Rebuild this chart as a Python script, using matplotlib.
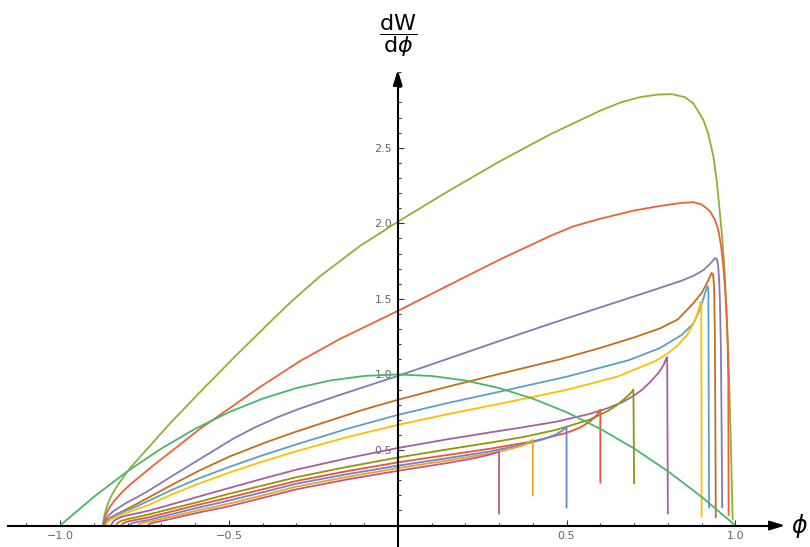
import numpy as np
import matplotlib.pyplot as plt
from matplotlib.ticker import FixedLocator

# curves: phi values and dW/dphi values,
# named by the phi where each curve drops vertically
phi_099 = [-0.873, -0.871, -0.868, -0.863, -0.855, -0.845, -0.830, -0.810, -0.789, -0.740,
           -0.675, -0.576, -0.477, -0.379, -0.314, -0.230, -0.112, 0.0, 0.155, 0.302,
           0.450, 0.599, 0.660, 0.717, 0.770, 0.812, 0.850, 0.875, 0.905, 0.920,
           0.935, 0.945, 0.954, 0.962, 0.968, 0.974, 0.979, 0.985, 0.992]
dw_099 = [0.0, 0.04, 0.075, 0.115, 0.165, 0.21, 0.265, 0.33, 0.39, 0.512,
          0.675, 0.905, 1.13, 1.345, 1.485, 1.65, 1.85, 2.01, 2.22, 2.41,
          2.587, 2.745, 2.80, 2.835, 2.852, 2.855, 2.835, 2.795, 2.685, 2.59,
          2.44, 2.28, 2.07, 1.88, 1.68, 1.40, 1.15, 0.68, 0.04]

phi_098 = [-0.873, -0.870, -0.865, -0.855, -0.839, -0.815, -0.789, -0.720, -0.651, -0.586,
           -0.547, -0.438, -0.409, -0.290, -0.171, 0.0, 0.155, 0.302, 0.450, 0.520,
           0.599, 0.700, 0.777, 0.840, 0.875, 0.900, 0.925, 0.940, 0.949, 0.957,
           0.964, 0.970, 0.974, 0.977, 0.979, 0.980]
dw_098 = [0.0, 0.035, 0.07, 0.115, 0.165, 0.225, 0.278, 0.405, 0.525, 0.64,
          0.70, 0.87, 0.915, 1.088, 1.235, 1.42, 1.595, 1.76, 1.915, 1.98,
          2.03, 2.085, 2.115, 2.135, 2.14, 2.125, 2.08, 2.02, 1.96, 1.86,
          1.72, 1.55, 1.40, 1.20, 0.96, 0.07]

phi_096 = [-0.872, -0.869, -0.864, -0.855, -0.840, -0.820, -0.800, -0.770, -0.740, -0.670,
           -0.592, -0.487, -0.428, -0.358, -0.290, -0.171, 0.0, 0.124, 0.302, 0.450,
           0.599, 0.698, 0.777, 0.840, 0.875, 0.905, 0.925, 0.935, 0.940, 0.945,
           0.949, 0.952, 0.954, 0.957, 0.959, 0.961]
dw_096 = [0.0, 0.025, 0.045, 0.07, 0.098, 0.128, 0.155, 0.19, 0.228, 0.325,
          0.432, 0.575, 0.644, 0.715, 0.774, 0.865, 0.99, 1.085, 1.222, 1.334,
          1.443, 1.515, 1.573, 1.62, 1.652, 1.69, 1.732, 1.758, 1.77, 1.765,
          1.72, 1.62, 1.50, 1.19, 0.70, 0.12]

phi_094 = [-0.870, -0.867, -0.862, -0.852, -0.835, -0.810, -0.780, -0.740, -0.670, -0.592,
           -0.500, -0.388, -0.300, -0.191, -0.100, 0.0, 0.150, 0.300, 0.480, 0.599,
           0.700, 0.777, 0.830, 0.875, 0.900, 0.915, 0.925, 0.930, 0.934, 0.937,
           0.939, 0.940, 0.942]
dw_094 = [0.0, 0.02, 0.035, 0.052, 0.073, 0.10, 0.135, 0.183, 0.268, 0.359,
          0.455, 0.553, 0.622, 0.702, 0.768, 0.832, 0.92, 1.003, 1.10, 1.175,
          1.245, 1.305, 1.365, 1.47, 1.54, 1.60, 1.65, 1.672, 1.66, 1.585,
          1.30, 0.96, 0.055]

phi_092 = [-0.868, -0.865, -0.860, -0.850, -0.835, -0.810, -0.780, -0.740, -0.670, -0.592,
           -0.500, -0.400, -0.300, -0.150, 0.0, 0.150, 0.300, 0.500, 0.685, 0.777,
           0.840, 0.875, 0.895, 0.905, 0.912, 0.918, 0.920, 0.922]
dw_092 = [0.0, 0.018, 0.032, 0.05, 0.068, 0.093, 0.12, 0.161, 0.235, 0.31,
          0.387, 0.465, 0.537, 0.64, 0.732, 0.812, 0.885, 0.985, 1.095, 1.175,
          1.26, 1.335, 1.43, 1.50, 1.55, 1.585, 1.56, 0.12]

phi_090 = [-0.865, -0.862, -0.857, -0.848, -0.830, -0.800, -0.740, -0.670, -0.592, -0.500,
           -0.400, -0.300, -0.150, 0.0, 0.150, 0.300, 0.500, 0.650, 0.764, 0.800,
           0.830, 0.856, 0.872, 0.885, 0.893, 0.897, 0.899, 0.900]
dw_090 = [0.0, 0.015, 0.028, 0.042, 0.06, 0.087, 0.134, 0.205, 0.275, 0.35,
          0.424, 0.492, 0.585, 0.666, 0.738, 0.805, 0.898, 0.985, 1.09, 1.14,
          1.195, 1.26, 1.32, 1.385, 1.44, 1.48, 1.47, 0.06]

phi_080 = [-0.849, -0.847, -0.843, -0.835, -0.820, -0.800, -0.770, -0.740, -0.670, -0.592,
           -0.500, -0.400, -0.300, -0.150, 0.0, 0.150, 0.272, 0.370, 0.469, 0.567,
           0.620, 0.666, 0.700, 0.725, 0.750, 0.774, 0.788, 0.796, 0.798, 0.800]
dw_080 = [0.0, 0.012, 0.025, 0.04, 0.055, 0.068, 0.082, 0.097, 0.14, 0.19,
          0.248, 0.31, 0.37, 0.445, 0.513, 0.572, 0.616, 0.65, 0.687, 0.738,
          0.775, 0.817, 0.86, 0.902, 0.955, 1.015, 1.065, 1.11, 1.115, 0.08]

phi_070 = [-0.834, -0.832, -0.828, -0.820, -0.800, -0.770, -0.740, -0.670, -0.592, -0.500,
           -0.400, -0.300, -0.150, 0.0, 0.150, 0.272, 0.370, 0.469, 0.567, 0.620,
           0.646, 0.670, 0.685, 0.695, 0.698, 0.700]
dw_070 = [0.0, 0.01, 0.02, 0.03, 0.043, 0.057, 0.072, 0.112, 0.155, 0.21,
          0.265, 0.32, 0.388, 0.45, 0.505, 0.548, 0.585, 0.633, 0.70, 0.755,
          0.792, 0.835, 0.865, 0.89, 0.90, 0.28]

phi_060 = [-0.818, -0.816, -0.812, -0.800, -0.770, -0.740, -0.670, -0.592, -0.500, -0.400,
           -0.300, -0.150, 0.0, 0.150, 0.272, 0.400, 0.498, 0.540, 0.567, 0.585,
           0.597, 0.600, 0.600]
dw_060 = [0.0, 0.008, 0.016, 0.027, 0.04, 0.053, 0.093, 0.137, 0.185, 0.24,
          0.295, 0.36, 0.418, 0.468, 0.508, 0.557, 0.612, 0.648, 0.685, 0.72,
          0.755, 0.765, 0.285]

phi_050 = [-0.794, -0.792, -0.788, -0.780, -0.760, -0.740, -0.670, -0.592, -0.500, -0.400,
           -0.300, -0.150, 0.0, 0.150, 0.272, 0.370, 0.430, 0.469, 0.490, 0.500, 0.500]
dw_050 = [0.0, 0.007, 0.014, 0.02, 0.028, 0.036, 0.075, 0.118, 0.165, 0.22,
          0.277, 0.34, 0.396, 0.447, 0.49, 0.535, 0.57, 0.603, 0.632, 0.655, 0.12]

phi_040 = [-0.770, -0.768, -0.764, -0.755, -0.740, -0.670, -0.592, -0.500, -0.400, -0.300,
           -0.150, 0.0, 0.150, 0.272, 0.330, 0.370, 0.390, 0.400, 0.400]
dw_040 = [0.0, 0.006, 0.012, 0.018, 0.024, 0.06, 0.10, 0.145, 0.20, 0.258,
          0.322, 0.38, 0.432, 0.476, 0.505, 0.53, 0.552, 0.568, 0.20]

phi_030 = [-0.740, -0.738, -0.734, -0.725, -0.700, -0.670, -0.592, -0.500, -0.400, -0.300,
           -0.150, 0.0, 0.150, 0.230, 0.270, 0.290, 0.300, 0.300]
dw_030 = [0.0, 0.006, 0.012, 0.018, 0.03, 0.045, 0.085, 0.127, 0.183, 0.24,
          0.305, 0.362, 0.415, 0.447, 0.468, 0.481, 0.488, 0.08]

phi_par = [-1.0, -0.9, -0.8, -0.7, -0.6, -0.5, -0.4, -0.3, -0.2, -0.1, 0.0,
           0.1, 0.2, 0.3, 0.4, 0.5, 0.6, 0.7, 0.8, 0.9, 1.0]
dw_par = [0.0, 0.19, 0.36, 0.51, 0.64, 0.75, 0.84, 0.91, 0.96, 0.99, 1.0,
          0.99, 0.96, 0.91, 0.84, 0.75, 0.64, 0.51, 0.36, 0.19, 0.0]

curves = [
    (phi_099, dw_099, '#8FB131'),
    (phi_098, dw_098, '#EB6235'),
    (phi_096, dw_096, '#8778B3'),
    (phi_094, dw_094, '#C56E1A'),
    (phi_092, dw_092, '#5D9EC7'),
    (phi_090, dw_090, '#FFBF00'),
    (phi_080, dw_080, '#A5609D'),
    (phi_070, dw_070, '#929600'),
    (phi_060, dw_060, '#E95536'),
    (phi_050, dw_050, '#6685D9'),
    (phi_040, dw_040, '#F89F13'),
    (phi_030, dw_030, '#BC5B80'),
    (phi_par, dw_par, '#47B66D'),
]

plt.rcParams['mathtext.fontset'] = 'dejavusans'

fig = plt.figure(figsize=(8.1, 5.47), dpi=100)
ax = fig.add_axes([0, 0, 1, 1])

for x, y, c in curves:
    ax.plot(x, y, color=c, lw=1.3, solid_joinstyle='round')

ax.set_xlim(-1.178, 1.221)
ax.set_ylim(-0.142, 3.478)

# axes through the origin, Mathematica style
for side in ['top', 'right']:
    ax.spines[side].set_visible(False)
ax.spines['left'].set_position(('data', 0))
ax.spines['bottom'].set_position(('data', 0))
ax.spines['bottom'].set_bounds(-1.155, 1.12)
ax.spines['left'].set_bounds(-0.14, 2.98)
for side in ['left', 'bottom']:
    ax.spines[side].set_linewidth(1.5)
    ax.spines[side].set_color('black')

arrow = dict(arrowstyle='-|>,head_length=0.9,head_width=0.28', color='black',
             lw=1.5, shrinkA=0, shrinkB=0)
ax.annotate('', xy=(1.147, 0), xytext=(1.10, 0), arrowprops=arrow)
ax.annotate('', xy=(0, 3.015), xytext=(0, 2.95), arrowprops=arrow)

ax.xaxis.set_major_locator(FixedLocator([-1.0, -0.5, 0.5, 1.0]))
ax.xaxis.set_minor_locator(FixedLocator([-1.1, -0.9, -0.8, -0.7, -0.6, -0.4, -0.3, -0.2, -0.1,
                                         0.1, 0.2, 0.3, 0.4, 0.6, 0.7, 0.8, 0.9, 1.1]))
ax.set_xticklabels(['\u22121.0', '\u22120.5', '0.5', '1.0'])
ax.yaxis.set_major_locator(FixedLocator([0.5, 1.0, 1.5, 2.0, 2.5]))
ax.yaxis.set_minor_locator(FixedLocator([0.1, 0.2, 0.3, 0.4, 0.6, 0.7, 0.8, 0.9,
                                         1.1, 1.2, 1.3, 1.4, 1.6, 1.7, 1.8, 1.9,
                                         2.1, 2.2, 2.3, 2.4, 2.6, 2.7, 2.8, 2.9, 3.0]))
ax.set_yticklabels(['0.5', '1.0', '1.5', '2.0', '2.5'])
ax.tick_params(which='both', direction='in', color='#333333', width=0.8,
               labelsize=8, labelcolor='#666666', pad=4)
ax.tick_params(which='major', length=4.5)
ax.tick_params(which='minor', length=2.5)

ax.text(0, 3.24, r'$\dfrac{\mathrm{dW}}{\mathrm{d}\phi}$', ha='center', va='center', fontsize=16)
ax.text(1.191, 0.0, r'$\phi$', ha='center', va='center', fontsize=17)

fig.savefig('out.png', dpi=100)
